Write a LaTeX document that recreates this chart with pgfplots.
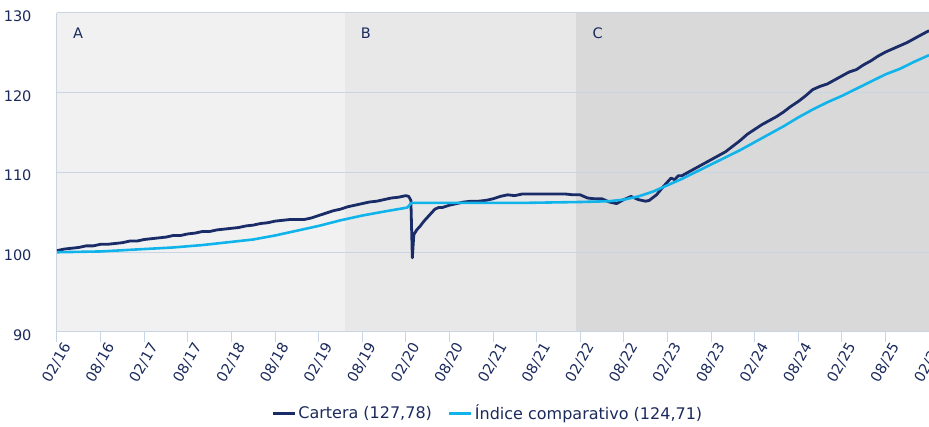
\documentclass[border=0pt]{standalone}
\usepackage{fontspec}
\setmainfont{DejaVu Sans}
\usepackage{pgfplots}
\pgfplotsset{compat=1.18}
\definecolor{navy}{HTML}{1A2C68}
\definecolor{cyanl}{HTML}{10B4EA}
\definecolor{txt}{HTML}{1B2A5C}
\definecolor{gridc}{HTML}{C8D5E5}
\definecolor{shA}{HTML}{F1F1F1}
\definecolor{shB}{HTML}{E8E8E8}
\definecolor{shC}{HTML}{D9D9D9}
\begin{document}
\begin{tikzpicture}
\begin{axis}[
  set layers,
  scale only axis,
  width=872pt, height=319pt,
  at={(0pt,0pt)}, anchor=south west,
  xmin=0, xmax=120, ymin=90, ymax=130,
  axis lines*=left,
  axis line style={draw=gridc, line width=1pt},
  xtick={0,6,...,120},
  xticklabels={02/16,08/16,02/17,08/17,02/18,08/18,02/19,08/19,02/20,08/20,02/21,08/21,02/22,08/22,02/23,08/23,02/24,08/24,02/25,08/25,02/26},
  ytick={90,100,110,120,130},
  ymajorgrids,
  grid style={draw=gridc, line width=1pt},
  xtick style={draw=gridc, line width=1pt},
  ytick style={draw=none},
  tick align=outside,
  major tick length=10pt,
  /pgf/number format/assume math mode=true,
  tick label style={font=\fontsize{14.5}{16}\selectfont, text=txt},
  xticklabel style={rotate=60, anchor=east, inner sep=1pt, xshift=4pt, yshift=-10pt},
  yticklabel style={xshift=-12pt, yshift=-3pt},
  legend columns=2,
  legend style={at={(0.494,-0.254)}, anchor=center, draw=none, fill=none,
    font=\fontsize{16}{18}\selectfont, text=txt,
    /tikz/every even column/.append style={column sep=14pt}},
  legend image code/.code={\draw[#1, line width=3pt] (0pt,0pt) -- (22pt,0pt);},
]
\addplot[on layer=axis background, fill=shA, draw=none, forget plot] coordinates {(0,90) (39.6,90) (39.6,130) (0,130)} -- cycle;
\addplot[on layer=axis background, fill=shB, draw=none, forget plot] coordinates {(39.6,90) (71.4,90) (71.4,130) (39.6,130)} -- cycle;
\addplot[on layer=axis background, fill=shC, draw=none, forget plot] coordinates {(71.4,90) (120,90) (120,130) (71.4,130)} -- cycle;

\addplot[navy, line width=2.8pt, line join=round] coordinates {
(0,100.2) (1,100.4) (2,100.5) (3,100.6) (4,100.8) (5,100.8) (6,101.0) (7,101.0) (8,101.1) (9,101.2)
(10,101.4) (11,101.4) (12,101.6) (13,101.7) (14,101.8) (15,101.9) (16,102.1) (17,102.1) (18,102.3) (19,102.4)
(20,102.6) (21,102.6) (22,102.8) (23,102.9) (24,103.0) (25,103.1) (26,103.3) (27,103.4) (28,103.6) (29,103.7)
(30,103.9) (31,104.0) (32,104.1) (33,104.1) (34,104.1) (35,104.3) (36,104.6) (37,104.9) (38,105.2) (39,105.4)
(40,105.7) (41,105.9) (42,106.1) (43,106.3) (44,106.4) (45,106.6) (46,106.8) (47,106.9) (48,107.1) (48.4,107.0)
(48.7,106.5) (48.9,99.3) (49.1,102.2) (49.5,102.8) (50,103.3) (50.5,103.9) (51,104.4) (51.5,104.9) (52,105.4) (52.5,105.6)
(53,105.6) (54,105.9) (55,106.1) (56,106.3) (57,106.4) (58,106.4) (59,106.5) (60,106.7) (61,107.0) (62,107.2)
(63,107.1) (64,107.3) (66,107.3) (68,107.3) (70,107.3) (71,107.2) (72,107.2) (73,106.8) (74,106.7) (75,106.7)
(76,106.3) (77,106.1) (78,106.6) (79,107.0) (80,106.6) (81,106.4) (81.5,106.5) (82.5,107.2) (83.5,108.3) (84,108.8)
(84.5,109.3) (85,109.1) (85.5,109.6) (86,109.6) (87,110.1) (88,110.6) (89,111.1) (90,111.6) (91,112.1) (92,112.6)
(93,113.3) (94,114.0) (95,114.8) (96,115.4) (97,116.0) (98,116.5) (99,117.0) (100,117.6) (101,118.3) (102,118.9)
(103,119.6) (104,120.4) (105,120.8) (106,121.1) (107,121.6) (108,122.1) (109,122.6) (110,122.9) (111,123.5) (112,124.0)
(113,124.6) (114,125.1) (115,125.5) (116,125.9) (117,126.3) (118,126.8) (119,127.3) (120,127.78)
};
\addlegendentry{Cartera (127,78)}

\addplot[cyanl, line width=2.6pt, line join=round] coordinates {
(0,100.0) (6,100.1) (12,100.4) (16,100.6) (20,100.9) (24,101.3) (27,101.6) (30,102.1) (33,102.7) (36,103.3)
(39,104.0) (42,104.6) (45,105.1) (48.2,105.6) (48.8,106.2) (55,106.2) (65,106.2) (72,106.3) (76,106.4) (78,106.6)
(80,107.0) (82,107.6) (84,108.4) (86,109.2) (88,110.1) (90,111.0) (92,111.9) (94,112.8) (96,113.8) (98,114.8)
(100,115.8) (102,116.9) (104,117.9) (106,118.8) (108,119.6) (110,120.5) (112,121.4) (114,122.3) (116,123.0) (118,123.9)
(120,124.71)
};
\addlegendentry{Índice comparativo (124,71)}

\node[text=txt, font=\fontsize{14.5}{16}\selectfont] at (axis cs:2.9,127.5) {A};
\node[text=txt, font=\fontsize{14.5}{16}\selectfont] at (axis cs:42.5,127.5) {B};
\node[text=txt, font=\fontsize{14.5}{16}\selectfont] at (axis cs:74.4,127.5) {C};
\end{axis}
\pgfresetboundingbox
\useasboundingbox (-57pt,-95pt) rectangle (872pt,332pt);
\end{tikzpicture}
\end{document}
